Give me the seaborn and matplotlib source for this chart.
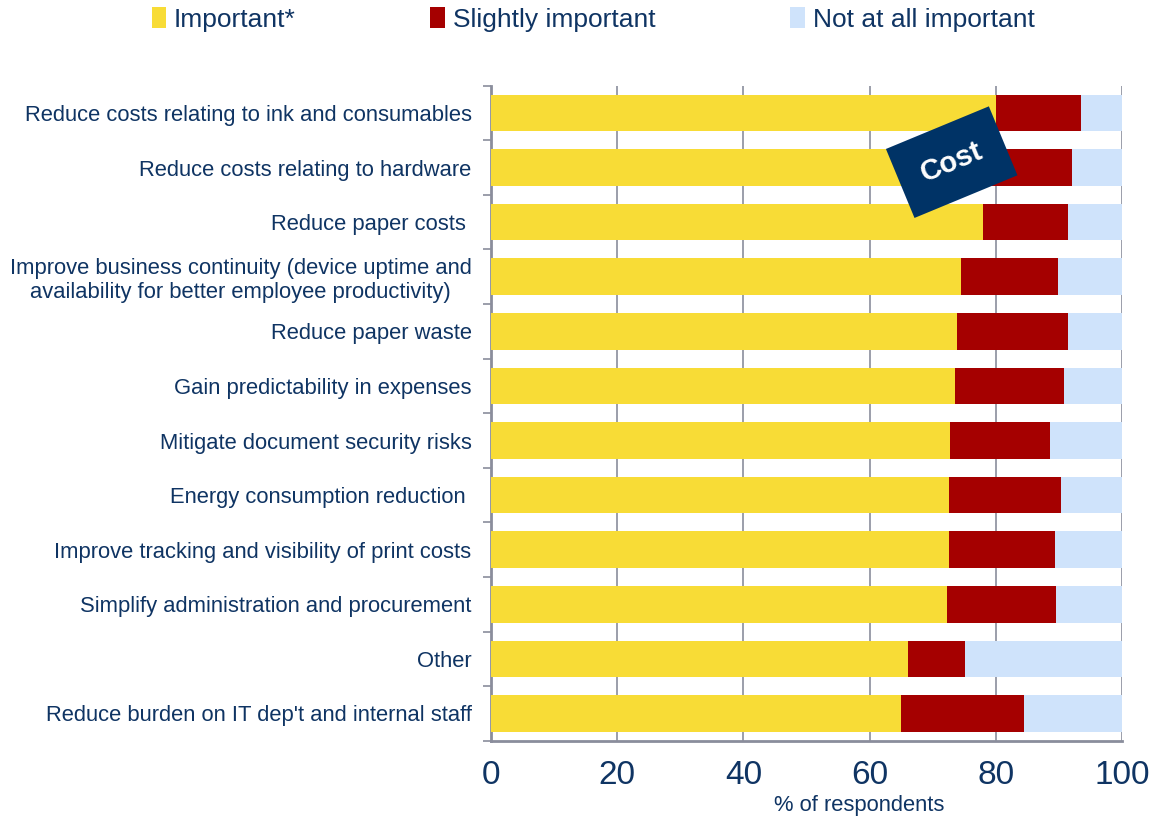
import matplotlib
matplotlib.use("Agg")
import matplotlib.pyplot as plt
import matplotlib.patches as mpatches
import seaborn as sns
import pandas as pd
import numpy as np

# Survey results: share of respondents per importance level
categories = [
    "Reduce costs relating to ink and consumables",
    "Reduce costs relating to hardware",
    "Reduce paper costs ",
    "Improve business continuity (device uptime and\navailability for better employee productivity)",
    "Reduce paper waste",
    "Gain predictability in expenses",
    "Mitigate document security risks",
    "Energy consumption reduction ",
    "Improve tracking and visibility of print costs",
    "Simplify administration and procurement",
    "Other",
    "Reduce burden on IT dep't and internal staff",
]
important = [80.0, 79.0, 78.0, 74.4, 73.8, 73.6, 72.8, 72.5, 72.5, 72.3, 66.1, 65.0]
slightly_important = [13.5, 13.0, 13.5, 15.5, 17.7, 17.2, 15.8, 17.9, 16.9, 17.3, 9.0, 19.5]
not_at_all_important = [6.5, 8.0, 8.5, 10.1, 8.5, 9.2, 11.4, 9.6, 10.6, 10.4, 24.9, 15.5]

series_names = ["Important*", "Slightly important", "Not at all important"]
colors = ["#F8DC36", "#A50000", "#CFE3FB"]
text_color = "#0F3463"
axis_color = "#8A8D9C"

df = pd.DataFrame({
    "category": categories,
    "important": important,
    "slightly": slightly_important,
    "not_at_all": not_at_all_important,
})
# cumulative extents for the stacked segments
df["end_slightly"] = df["important"] + df["slightly"]
df["end_total"] = df["end_slightly"] + df["not_at_all"]

sns.set_theme(style="white")
plt.rcParams["font.family"] = ["Liberation Sans", "DejaVu Sans"]

fig = plt.figure(figsize=(11.57, 8.21), dpi=100)
ax = fig.add_axes([0.4244, 0.0977, 0.5454, 0.7979])

bar_w = 0.67
for col, color in zip(["end_total", "end_slightly", "important"], colors[::-1]):
    sns.barplot(data=df, x=col, y="category", orient="h", color=color,
                width=bar_w, saturation=1, edgecolor="none", ax=ax, zorder=3)

ax.set_xlim(0, 100)
ax.set_ylim(len(categories) - 0.5, -0.5)
ax.set_xticks(np.arange(0, 101, 20))
ax.xaxis.grid(True, color=axis_color, linewidth=1.2, zorder=0)
ax.set_axisbelow(True)

ax.set_ylabel("")
ax.set_xlabel("% of respondents", fontsize=15.8, color=text_color)
ax.xaxis.set_label_coords(0.583, -0.099, transform=ax.transAxes)
ax.xaxis.label.set_va("center")

ax.tick_params(axis="x", labelsize=24, colors=text_color, length=6, width=1.2,
               color=axis_color, direction="out", pad=8)
ax.tick_params(axis="y", which="major", labelsize=15.8, colors=text_color,
               length=0, pad=14)
for lbl in ax.get_yticklabels():
    lbl.set_multialignment("center")

# Boundary ticks between categories on the left axis
ax.set_yticks(np.arange(-0.5, len(categories), 1), minor=True)
ax.tick_params(axis="y", which="minor", length=6, width=1.2, color=axis_color,
               direction="out", left=True)

for side in ["top", "right"]:
    ax.spines[side].set_visible(False)
for side in ["left", "bottom"]:
    ax.spines[side].set_color(axis_color)
    ax.spines[side].set_linewidth(2)

# Legend across the top
handles = [mpatches.Patch(facecolor=c, edgecolor="none") for c in colors]
fig.legend(handles, series_names, loc="upper center", bbox_to_anchor=(0.5125, 1.02),
           ncol=3, frameon=False, fontsize=19, labelcolor=text_color,
           handlelength=0.55, handleheight=0.8, handletextpad=0.3,
           columnspacing=5.1)

# Rotated "Cost" tag
ax.text(73.0, 0.9, "Cost", rotation=22.5, ha="center", va="center",
        fontsize=21, fontweight="bold", color="white", zorder=6,
        bbox=dict(boxstyle="square,pad=0.8", facecolor="#003366",
                  edgecolor="none"))

fig.savefig("out.png", dpi=100)
